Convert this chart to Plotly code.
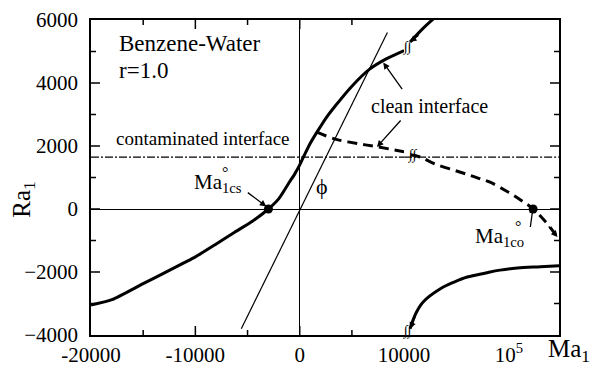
import math
import plotly.graph_objects as go

# ---------------- data ----------------
# clean interface, solid branch (linear part of Ma axis)
solid_lin_ma = [-20000, -18000, -15000, -12500, -10000, -8000, -6200, -4500, -3000,
                -2000, -1000, -500, 0, 500, 1000, 1650, 2500, 3400, 5000, 6700, 8200, 10000]
solid_lin_ra = [-3050, -2880, -2370, -1950, -1520, -1110, -730, -380, 0,
                330, 850, 1100, 1400, 1750, 2080, 2440, 2880, 3270, 3900, 4440, 4750, 5030]
# clean interface, solid branch (log part)
solid_log_ma = [11400, 15000, 20000]
solid_log_ra = [5300, 5720, 6100]
# clean interface, dashed branch
dash_lin_ma = [1650, 3400, 5500, 7500, 10000]
dash_lin_ra = [2440, 2220, 2080, 1970, 1820]
dash_log_ma = [11500, 14200, 20000, 30000, 40000, 50000, 66000, 100000, 130000, 170000, 220000, 290000]
dash_log_ra = [1720, 1650, 1420, 1230, 1100, 990, 850, 520, 280, 0, -380, -890]
# lower solid branch (log part)
low_log_ma = [11400, 13000, 15200, 22000, 30000, 40000, 60000, 82000, 120000, 200000, 300000]
low_log_ra = [-3800, -3300, -2950, -2540, -2320, -2160, -2030, -1940, -1870, -1830, -1800]
# phi line
phi_ma = [-5600, 8400]
phi_ra = [-3800, 5600]
# contaminated interface
contam_ra = 1650
lin_span = [-20000, 10000]
log_span = [10000, 300000]
ra_span = [-4000, 6000]
# critical points
ma1cs = [-3000]
ma1co = [170000]

# ticks
x_tickvals = [-20000, -10000, 0, 10000]
x_ticktext = ["-20000", "-10000", "0", "10000"]
x_minor = [-15000, -5000, 5000]
log_major = [100000]
log_major_text = ["10<sup>5</sup>"]
log_minor = [20000, 30000, 40000, 50000, 60000, 70000, 80000, 90000, 200000]
y_tickvals = [-4000, -2000, 0, 2000, 4000, 6000]
y_minor = [-3000, -1000, 1000, 3000, 5000]

FONT = "Liberation Serif"
SPLIT = 0.669
LOG_RANGE = [4, 5.477]
MAJ, MIN = 9, 5

fig = go.Figure()
thick = dict(color="black", width=3)
thin = dict(color="black", width=1.2)

fig.add_trace(go.Scatter(x=solid_lin_ma, y=solid_lin_ra, mode="lines", line=dict(shape="spline", smoothing=0.6, **thick), xaxis="x", yaxis="y"))
fig.add_trace(go.Scatter(x=solid_log_ma, y=solid_log_ra, mode="lines", line=dict(shape="spline", **thick), xaxis="x2", yaxis="y2"))
fig.add_trace(go.Scatter(x=dash_lin_ma, y=dash_lin_ra, mode="lines", line=dict(shape="spline", dash="10px,6px", **thick), xaxis="x", yaxis="y"))
fig.add_trace(go.Scatter(x=dash_log_ma, y=dash_log_ra, mode="lines", line=dict(shape="spline", dash="10px,6px", **thick), xaxis="x2", yaxis="y2"))
fig.add_trace(go.Scatter(x=low_log_ma, y=low_log_ra, mode="lines", line=dict(shape="spline", **thick), xaxis="x2", yaxis="y2"))
fig.add_trace(go.Scatter(x=phi_ma, y=phi_ra, mode="lines", line=thin, xaxis="x", yaxis="y"))
fig.add_trace(go.Scatter(x=lin_span, y=[contam_ra, contam_ra], mode="lines",
                         line=dict(color="black", width=1.2, dash="8px,2px,2px,2px"), xaxis="x", yaxis="y"))
fig.add_trace(go.Scatter(x=log_span, y=[contam_ra, contam_ra], mode="lines",
                         line=dict(color="black", width=1.2, dash="8px,2px,2px,2px"), xaxis="x2", yaxis="y2"))
fig.add_trace(go.Scatter(x=ma1cs, y=[0], mode="markers", marker=dict(color="black", size=9), xaxis="x", yaxis="y"))
fig.add_trace(go.Scatter(x=ma1co, y=[0], mode="markers", marker=dict(color="black", size=9), xaxis="x2", yaxis="y2"))

fig.update_layout(
    template="none",
    width=592, height=371,
    margin=dict(l=91, r=33, t=20, b=36),
    paper_bgcolor="white", plot_bgcolor="white",
    showlegend=False,
    font=dict(family=FONT, color="black", size=21),
    xaxis=dict(domain=[0, SPLIT], range=lin_span, anchor="y", mirror=True,
               tickmode="array", tickvals=x_tickvals, ticktext=x_ticktext, ticks="",
               showline=True, linecolor="black", linewidth=1.5, showgrid=False,
               zeroline=True, zerolinecolor="black", zerolinewidth=1.2),
    xaxis2=dict(domain=[SPLIT, 1], type="log", range=LOG_RANGE, anchor="y2", mirror=True,
                tickmode="array", tickvals=log_major, ticktext=log_major_text, ticks="",
                showline=True, linecolor="black", linewidth=1.5, showgrid=False, zeroline=False),
    yaxis=dict(range=ra_span, anchor="x", side="left", ticks="",
               tickmode="array", tickvals=y_tickvals, ticklabelstandoff=7,
               showline=True, linecolor="black", linewidth=1.5, showgrid=False,
               zeroline=True, zerolinecolor="black", zerolinewidth=1.2),
    yaxis2=dict(range=ra_span, anchor="x2", side="right", showticklabels=False, ticks="",
                tickmode="array", tickvals=y_tickvals,
                showline=True, linecolor="black", linewidth=1.5, showgrid=False,
                zeroline=True, zerolinecolor="black", zerolinewidth=1.2),
)


# tick marks drawn as pixel-sized shapes anchored at the tick values
def xtick(v, xref, length):
    xval = math.log10(v) if xref == "x2" else v
    for anchor, sign in ((0, 1), (1, -1)):
        fig.add_shape(type="line", xref=xref, yref="paper", x0=xval, x1=xval,
                      ysizemode="pixel", yanchor=anchor, y0=0, y1=sign * length,
                      line=dict(color="black", width=1.5), layer="above")


def ytick(v, length):
    for xref, anchor, sign in (("x domain", 0, 1), ("x2 domain", 1, -1)):
        fig.add_shape(type="line", xref=xref, yref="y", y0=v, y1=v,
                      xsizemode="pixel", xanchor=anchor, x0=0, x1=sign * length,
                      line=dict(color="black", width=1.5), layer="above")


for v in x_tickvals[1:-1]:
    xtick(v, "x", MAJ)
for v in x_minor:
    xtick(v, "x", MIN)
for v in log_major:
    xtick(v, "x2", MAJ)
for v in log_minor:
    xtick(v, "x2", MIN)
for v in y_tickvals[1:-1]:
    ytick(v, MAJ)
for v in y_minor:
    ytick(v, MIN)


def xv(x, xref):
    return math.log10(x) if xref == "x2" else x


def txt(x, y, s, size, xref="x", yref="y", xanchor="left", yanchor="middle", **kw):
    fig.add_annotation(x=xv(x, xref), y=y, xref=xref, yref=yref, text=s, showarrow=False,
                       xanchor=xanchor, yanchor=yanchor, font=dict(size=size), **kw)


txt(-17500, 5240, "Benzene-Water", 23)
txt(-17500, 4400, "r=1.0", 23)
txt(-17800, 2250, "contaminated interface", 19)
txt(6600, 3270, "clean interface", 20)
txt(2100, 700, "ϕ", 22, xanchor="center")
txt(-10300, 820, "Ma<sub>1cs</sub>", 21)
txt(-7200, 1150, "°", 16, xanchor="center")
txt(146000, -900, "Ma<sub>1co</sub>", 21, xref="x2", yref="y2", xanchor="right")
txt(121000, -560, "°", 16, xref="x2", yref="y2", xanchor="center")
txt(0.972, -0.05, "Ma<sub>1</sub>", 25, xref="paper", yref="paper")
txt(-0.145, 0.43, "Ra<sub>1</sub>", 25, xref="paper", yref="paper", xanchor="center", textangle=-90)

# axis-break marks
for (bx, by) in [(10800, 5150), (12200, 1700), (10800, -3870)]:
    txt(bx, by, "<i>∫∫</i>", 14, xref="x2", yref="y2", xanchor="center")


def arrow(x, y, ax, ay, xref="x", yref="y", head=2, size=1.0):
    fig.add_annotation(x=xv(x, xref), y=y, xref=xref, yref=yref, ax=ax, ay=ay, text="", showarrow=True,
                       arrowhead=head, arrowsize=size, arrowwidth=1.3, arrowcolor="black")


arrow(8000, 4650, 20, 28)
arrow(7400, 1970, 25, -28)
arrow(-3200, 80, -20, -15)
arrow(170000, 80, -3, 22, xref="x2", yref="y2")
arrow(290000, -890, -10, -12, xref="x2", yref="y2")
arrow(11400, -3800, 6, -14, xref="x2", yref="y2")
arrow(11400, 5300, 10, -8, xref="x2", yref="y2")

fig.write_html("out.html", config={"displayModeBar": False},
               post_script="document.body.style.margin='0px';")
